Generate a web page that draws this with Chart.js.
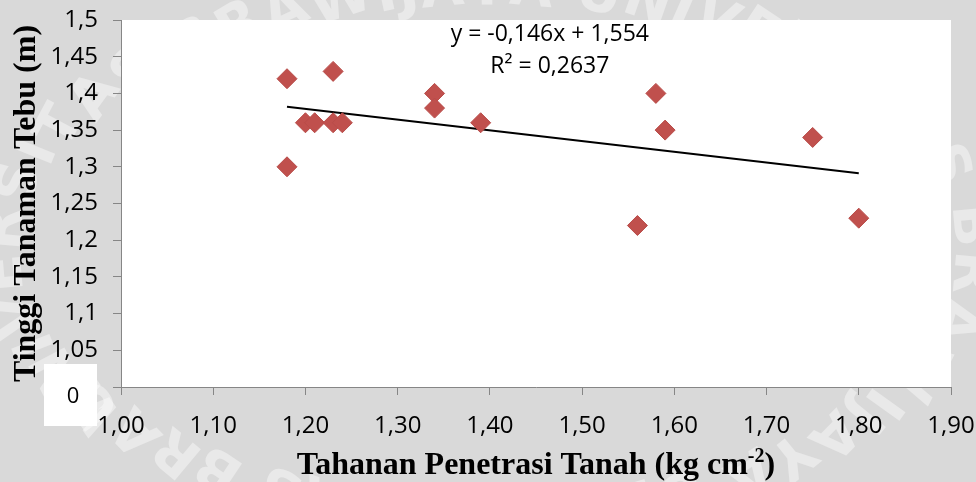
<!DOCTYPE html>
<html>
<head>
<meta charset="utf-8">
<title>Tahanan Penetrasi vs Tinggi Tanaman Tebu</title>
<script src="https://cdn.jsdelivr.net/npm/chart.js@4.4.0/dist/chart.umd.min.js"></script>
<style>
  html, body { margin: 0; padding: 0; background: #d9d9d9; }
  #wrap { width: 976px; height: 482px; }
</style>
</head>
<body>
<div id="wrap"><canvas id="chart" width="976" height="482"></canvas></div>
<script>
// soil penetration resistance (kg cm-2) and cane height (m) per plot
const penetrasi = [1.18, 1.18, 1.20, 1.21, 1.23, 1.23, 1.24, 1.34, 1.34, 1.39, 1.56, 1.58, 1.59, 1.75, 1.80];
const tinggi    = [1.42, 1.30, 1.36, 1.36, 1.43, 1.36, 1.36, 1.40, 1.38, 1.36, 1.22, 1.40, 1.35, 1.34, 1.23];

// linear trendline as reported
const trendSlope = -0.146;
const trendIntercept = 1.554;
const rSquared = 0.2637;

const xTicks = [1.0, 1.1, 1.2, 1.3, 1.4, 1.5, 1.6, 1.7, 1.8, 1.9];
const xTickLabels = ["1,00", "1,10", "1,20", "1,30", "1,40", "1,50", "1,60", "1,70", "1,80", "1,90"];
const yTicks = [1.0, 1.05, 1.1, 1.15, 1.2, 1.25, 1.3, 1.35, 1.4, 1.45, 1.5];
const yTickLabels = ["0", "1,05", "1,1", "1,15", "1,2", "1,25", "1,3", "1,35", "1,4", "1,45", "1,5"];

const comma = v => String(v).replace(".", ",");

const points = penetrasi.map((x, i) => ({ x, y: tinggi[i] }));
const xMin = Math.min(...penetrasi);
const xMax = Math.max(...penetrasi);
const trendPoints = [xMin, xMax].map(x => ({ x, y: trendSlope * x + trendIntercept }));

const AXIS = "#868686";
const tickFont = { family: "'Open Sans'", size: 24 };
const titleFont = { family: "'Liberation Serif'", size: 32, weight: "bold" };

// grey page with faint lettering, white plot area, boxed "0" at the axis base
const backdrop = {
  id: "backdrop",
  beforeDraw(chart) {
    const { ctx, width, height, chartArea } = chart;
    ctx.save();
    ctx.fillStyle = "#d9d9d9";
    ctx.fillRect(0, 0, width, height);

    ctx.fillStyle = "rgba(255,255,255,0.42)";
    ctx.font = "bold 56px 'DejaVu Sans'";
    ctx.textAlign = "center";
    ctx.textBaseline = "bottom";
    const text = "UNIVERSITAS BRAWIJAYA ";
    const cx = width / 2, cy = 250, rx = 455, ry = 232;
    let t = Math.PI * 0.78, k = 0;
    while (t < Math.PI * 0.78 + Math.PI * 2) {
      const ch = text[k % text.length];
      const w = ctx.measureText(ch).width;
      const ds = Math.hypot(rx * Math.sin(t), ry * Math.cos(t));
      const tm = t + (w / 2) / ds;
      ctx.save();
      ctx.translate(cx + rx * Math.cos(tm), cy + ry * Math.sin(tm));
      ctx.rotate(tm + Math.PI / 2);
      ctx.fillText(ch, 0, 0);
      ctx.restore();
      t += w / ds;
      k++;
    }

    ctx.fillStyle = "#ffffff";
    ctx.fillRect(chartArea.left, chartArea.top, chartArea.right - chartArea.left, chartArea.bottom - chartArea.top);

    const zeroY = chart.scales.y.getPixelForValue(yTicks[0]);
    ctx.fillRect(44, zeroY - 23, 53, 62);
    ctx.fillStyle = "#000";
    ctx.font = "22px 'Open Sans'";
    ctx.textAlign = "center";
    ctx.textBaseline = "middle";
    ctx.fillText(yTickLabels[0], 73, zeroY + 10);
    ctx.restore();
  }
};

// x axis title with a raised exponent, plus trendline equation and R²
const annotations = {
  id: "annotations",
  afterDraw(chart) {
    const { ctx, chartArea } = chart;
    ctx.save();
    ctx.fillStyle = "#000";

    const main = "Tahanan Penetrasi Tanah (kg cm";
    const sup = "-2";
    const tail = ")";
    ctx.font = "bold 32px 'Liberation Serif'";
    const wMain = ctx.measureText(main).width;
    const wTail = ctx.measureText(tail).width;
    ctx.font = "bold 20px 'Liberation Serif'";
    const wSup = ctx.measureText(sup).width;
    const total = wMain + wSup + wTail;
    let x = (chartArea.left + chartArea.right) / 2 - total / 2;
    const base = chartArea.bottom + 87;
    ctx.textAlign = "left";
    ctx.textBaseline = "alphabetic";
    ctx.font = "bold 32px 'Liberation Serif'";
    ctx.fillText(main, x, base);
    x += wMain;
    ctx.font = "bold 20px 'Liberation Serif'";
    ctx.fillText(sup, x, base - 12);
    x += wSup;
    ctx.font = "bold 32px 'Liberation Serif'";
    ctx.fillText(tail, x, base);

    const cx = chart.scales.x.getPixelForValue(1.465);
    ctx.font = "23px 'Open Sans'";
    ctx.textAlign = "center";
    ctx.textBaseline = "middle";
    const sign = trendIntercept < 0 ? " - " : " + ";
    ctx.fillText("y = " + comma(trendSlope) + "x" + sign + comma(Math.abs(trendIntercept)), cx, chartArea.top + 14);
    ctx.fillText("R\u00B2 = " + comma(rSquared), cx, chartArea.top + 46);
    ctx.restore();
  }
};

new Chart(document.getElementById("chart"), {
  type: "scatter",
  data: {
    datasets: [
      {
        label: "Tinggi Tanaman Tebu",
        data: points,
        pointStyle: "rectRot",
        pointRadius: 10,
        pointHoverRadius: 10,
        backgroundColor: "#c0504d",
        borderColor: "#b94c49",
        borderWidth: 1
      },
      {
        label: "Linear",
        data: trendPoints,
        showLine: true,
        pointRadius: 0,
        borderColor: "#000000",
        borderWidth: 2,
        fill: false
      }
    ]
  },
  options: {
    responsive: false,
    animation: false,
    devicePixelRatio: 1,
    layout: { padding: { top: 20, right: 25, left: 0, bottom: 0 } },
    plugins: {
      legend: { display: false },
      tooltip: { enabled: false }
    },
    scales: {
      x: {
        type: "linear",
        min: xTicks[0],
        max: xTicks[xTicks.length - 1],
        afterBuildTicks: s => { s.ticks = xTicks.map(v => ({ value: v })); },
        afterFit: s => { s.height = 95; s.paddingLeft = 0; s.paddingRight = 0; },
        grid: { drawOnChartArea: false, tickLength: 8, tickColor: AXIS },
        border: { color: AXIS, width: 1 },
        ticks: {
          font: tickFont,
          color: "#000",
          padding: 17,
          maxRotation: 0,
          callback: (v, i) => xTickLabels[i]
        }
      },
      y: {
        type: "linear",
        min: yTicks[0],
        max: yTicks[yTicks.length - 1],
        afterBuildTicks: s => { s.ticks = yTicks.map(v => ({ value: v })); },
        afterFit: s => { s.width = 121; s.paddingTop = 0; s.paddingBottom = 0; },
        grid: { drawOnChartArea: false, tickLength: 8, tickColor: AXIS },
        border: { color: AXIS, width: 1 },
        ticks: {
          font: tickFont,
          color: "#000",
          padding: 15,
          // the base label sits in its own box, drawn by the backdrop plugin
          callback: (v, i) => (i === 0 ? "" : yTickLabels[i])
        },
        title: {
          display: true,
          text: "Tinggi Tanaman Tebu (m)",
          font: titleFont,
          color: "#000",
          padding: { top: 8, bottom: 0 }
        }
      }
    }
  },
  plugins: [backdrop, annotations]
});
</script>
</body>
</html>
